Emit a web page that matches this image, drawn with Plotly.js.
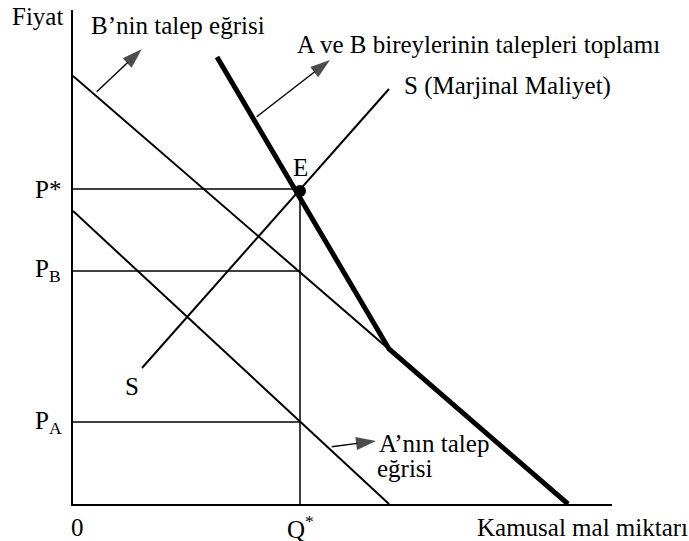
<!DOCTYPE html>
<html>
<head>
<meta charset="utf-8">
<script src="https://cdn.plot.ly/plotly-3.0.1.min.js"></script>
<style>
  html, body { margin: 0; padding: 0; background: #fff; }
  #chart { width: 689px; height: 541px; }
</style>
</head>
<body>
<div id="chart"></div>
<script>
// Individual demand curves (quantity, price end points)
const demandA_q = [0, 31.6];
const demandA_p = [29.3, 0];
const demandB_q = [0, 49.5];
const demandB_p = [42.8, 0];

// Vertical sum of the two demand curves (kinked where A's demand ends)
const sumDemand_q = [14.4, 31.6, 49.5];
const sumDemand_p = [44.7, 15.5, 0];

// Supply = marginal cost
const supply_q = [6.9, 31.6];
const supply_p = [13.6, 41.5];

// Equilibrium quantity and the prices each person pays
const qStar = 22.7;
const priceLevels = [31.5, 23.3, 8.2];           // P*, P_B, P_A
const priceLabels = ['P*', 'P<sub>B</sub>', 'P<sub>A</sub>'];

const X_MAX = 53.9, Y_MAX = 49.4;
const FONT = '"Liberation Serif", "Times New Roman", serif';
const FS = 25;

const thin = { color: '#000', width: 2 };
const guide = { color: '#000', width: 1.5 };

const traces = [
  { x: demandA_q, y: demandA_p, mode: 'lines', line: thin },
  { x: demandB_q, y: demandB_p, mode: 'lines', line: thin },
  { x: supply_q, y: supply_p, mode: 'lines', line: thin },
  { x: sumDemand_q, y: sumDemand_p, mode: 'lines', line: { color: '#000', width: 5 } },
  // vertical guide at Q*
  { x: [qStar, qStar], y: [0, priceLevels[0]], mode: 'lines', line: guide }
];
// horizontal guides at each price level
priceLevels.forEach(p => {
  traces.push({ x: [0, qStar], y: [p, p], mode: 'lines', line: guide });
});
// equilibrium point E
traces.push({ x: [qStar], y: [priceLevels[0] - 0.2], mode: 'markers',
  marker: { color: '#000', size: 12 } });

// pointer arrows from each curve to its caption
function pointer(tailX, tailY, headX, headY) {
  return { x: [tailX, headX], y: [tailY, headY], mode: 'lines+markers',
    line: { color: '#000', width: 1.4 },
    marker: { symbol: ['circle', 'arrow'], size: [0, 21], angleref: 'previous',
      color: '#000', line: { width: 0 } } };
}
traces.push(pointer(2.37, 41.23, 6.87, 45.47));
traces.push(pointer(18.37, 38.73, 25.7, 44.4));
traces.push(pointer(25.87, 5.73, 30.3, 6.3));

// text placed in paper units so labels outside the axes still show
function txt(text, x, y, opts) {
  return Object.assign({ text: text, x: x / X_MAX, y: y / Y_MAX,
    xref: 'paper', yref: 'paper', xanchor: 'center', yanchor: 'middle',
    showarrow: false, font: { family: FONT, size: FS, color: '#000' } }, opts || {});
}

const annotations = [
  txt('Fiyat', -3.5, 48.7),
  txt('B\u2019nin talep eğrisi', 10.5, 47.9),
  txt('A ve B bireylerinin talepleri toplamı', 40.5, 45.9),
  txt('S (Marjinal Maliyet)', 43.4, 41.8),
  txt('E', qStar, priceLevels[0] + 2.1),
  txt('S', 5.9, 11.8),
  txt('0', 0.4, -2.3),
  txt('Q<sup>*</sup>', qStar, -2.3),
  txt('Kamusal mal miktarı', 50.9, -2.3),
  txt('A\u2019nın talep', 30.4, 6.1, { xanchor: 'left' }),
  txt('eğrisi', 30.2, 3.6, { xanchor: 'left' })
];
priceLevels.forEach((p, i) => {
  annotations.push(txt(priceLabels[i], -4.0, p, { xanchor: 'left' }));
});

const layout = {
  width: 689, height: 541,
  margin: { l: 73, r: 77, t: 10, b: 37, pad: 0 },
  paper_bgcolor: '#fff', plot_bgcolor: '#fff',
  showlegend: false,
  font: { family: FONT, size: FS, color: '#000' },
  xaxis: { range: [0, X_MAX], showline: true, linecolor: '#000', linewidth: 2,
    showgrid: false, zeroline: false, showticklabels: false, ticks: '' },
  yaxis: { range: [0, Y_MAX], showline: true, linecolor: '#000', linewidth: 2,
    showgrid: false, zeroline: false, showticklabels: false, ticks: '' },
  annotations: annotations
};

Plotly.newPlot('chart', traces, layout, { staticPlot: true, displayModeBar: false });
</script>
</body>
</html>
